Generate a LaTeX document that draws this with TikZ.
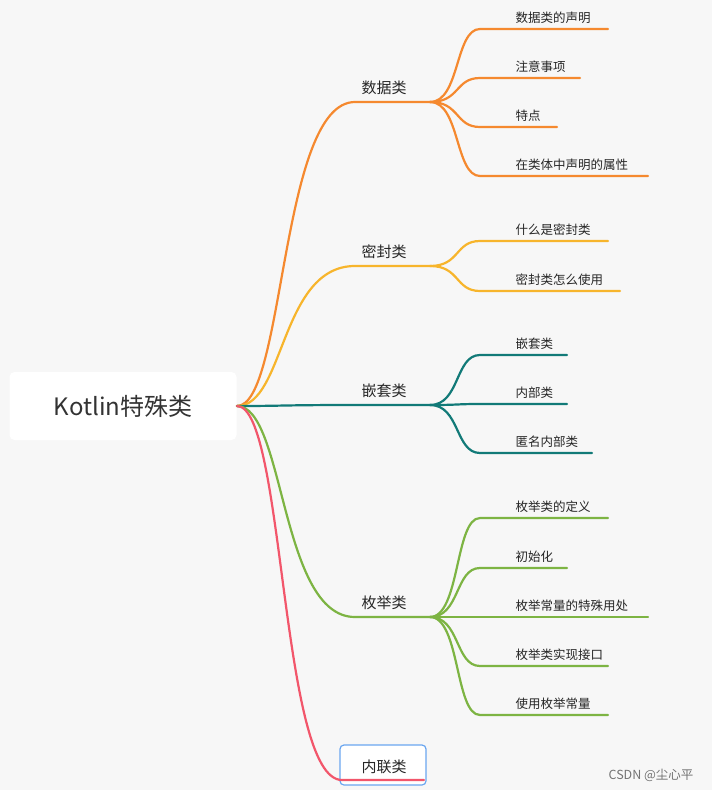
\documentclass[tikz,border=0pt]{standalone}
\usepackage{fontspec}
\setmainfont{Noto Sans CJK SC}
\usetikzlibrary{positioning}
\definecolor{bgcol}{HTML}{F7F7F7}
\definecolor{cdata}{HTML}{F5892F}
\definecolor{cseal}{HTML}{F7B52C}
\definecolor{cnest}{HTML}{127A78}
\definecolor{cenum}{HTML}{7DB443}
\definecolor{cinline}{HTML}{F2566B}
\definecolor{cframe}{HTML}{6AA6F0}
\tikzset{
  branch/.style={font=\fontsize{15}{18}\selectfont, anchor=base, text=black!85},
  leaf/.style={font=\fontsize{12.5}{15}\selectfont, anchor=base west, text=black!85},
  link/.style={line width=2.2pt, line cap=round},
}
\newcommand{\leafline}[5]{% colour, from, name, y, endx, text
  \coordinate (#3s) at (480,#4);
  \coordinate (#3e) at (#5,#4);
  \node[leaf] at (512,#4-7) {#2};
  \draw[link,#1] (hub) .. controls +(30,0) and (455,#4) .. (#3s) -- (#3e);
}
\begin{document}
\begin{tikzpicture}[x=1pt,y=-1pt]
  \fill[bgcol] (0,0) rectangle (712,790);
  \useasboundingbox (0,0) rectangle (712,790);
  % root
  \node (root) [fill=white, rounded corners=5pt, minimum width=227pt, minimum height=68pt,
    font=\fontsize{24}{28}\selectfont, text=black!80] at (123,406) {Kotlin特殊类};
  \coordinate (r) at (237,406);
  % branches
  \foreach \nm/\y/\col/\txt in {bdata/102/cdata/数据类, bseal/266/cseal/密封类,
      bnest/405/cnest/嵌套类, benum/617/cenum/枚举类}{
    \node[branch] at (384,\y-9) {\txt};
    \draw[link,\col] (r) .. controls (285,406) and (280,\y) .. (355,\y) -- (430,\y);
  }
  % data
  \begin{scope}
    \coordinate (hub) at (430,102);
    \leafline{cdata}{数据类的声明}{d1}{29}{608}
    \leafline{cdata}{注意事项}{d2}{78}{580}
    \leafline{cdata}{特点}{d3}{127}{557}
    \leafline{cdata}{在类体中声明的属性}{d4}{176}{648}
  \end{scope}
  \begin{scope}
    \coordinate (hub) at (430,266);
    \leafline{cseal}{什么是密封类}{s1}{241}{608}
    \leafline{cseal}{密封类怎么使用}{s2}{291}{620}
  \end{scope}
  \begin{scope}
    \coordinate (hub) at (430,405);
    \leafline{cnest}{嵌套类}{n1}{355}{567}
    \leafline{cnest}{内部类}{n2}{404}{567}
    \leafline{cnest}{匿名内部类}{n3}{453}{592}
  \end{scope}
  \begin{scope}
    \coordinate (hub) at (430,617);
    \leafline{cenum}{枚举类的定义}{e1}{518}{608}
    \leafline{cenum}{初始化}{e2}{568}{567}
    \leafline{cenum}{枚举常量的特殊用处}{e3}{617}{648}
    \leafline{cenum}{枚举类实现接口}{e4}{666}{608}
    \leafline{cenum}{使用枚举常量}{e5}{715}{608}
  \end{scope}
  % inline class
  \draw[cframe, line width=1.2pt, rounded corners=4pt, fill=white] (340,745) rectangle (426,785);
  \node[branch] (inl) at (384,772) {内联类};
  \draw[link,cinline] (r) .. controls (285,406) and (280,780) .. (342,780) -- (424,780);
  % watermark
  \node[anchor=base east, font=\fontsize{12.5}{15}\selectfont, text=black!55] (mark) at (697,779) {CSDN @尘心平};
\end{tikzpicture}
\end{document}
